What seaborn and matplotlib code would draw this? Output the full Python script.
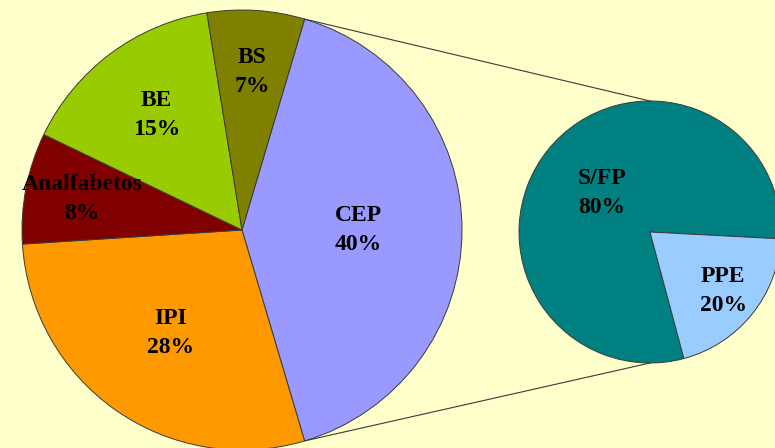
import numpy as np
import matplotlib
matplotlib.use("Agg")
import matplotlib.pyplot as plt
import seaborn as sns

# main pie
main_labels = ["CEP", "IPI", "Analfabetos", "BE", "BS"]
main_values = [40, 28, 8, 15, 7]
main_colors = ["#9999FF", "#FF9900", "#800000", "#99CC00", "#808000"]

# secondary pie (breakdown of CEP)
sub_labels = ["S/FP", "PPE"]
sub_values = [80, 20]
sub_colors = ["#008080", "#99CCFF"]

sns.set_theme(style="white")
plt.rcParams["font.family"] = ["Liberation Serif", "DejaVu Serif"]

bg = "#FFFFCC"
edge = "#3a3a3a"
fs = 17

fig = plt.figure(figsize=(7.75, 4.48), dpi=100, facecolor=bg)
ax = fig.add_axes([0, 0, 1, 1])
ax.set_facecolor(bg)

main_c, main_r = (242, 218), 220
sub_c, sub_r = (650, 216), 131

start = 360 * main_values[0] / sum(main_values) / 2
wedges, _ = ax.pie(main_values, colors=main_colors, center=main_c, radius=main_r,
                   startangle=start, counterclock=False, frame=True,
                   wedgeprops=dict(edgecolor=edge, linewidth=0.7))

label_r = [0.53, 0.57, 0.74, 0.65, 0.72]
for w, lab, v, rr in zip(wedges, main_labels, main_values, label_r):
    ang = np.deg2rad((w.theta1 + w.theta2) / 2)
    x = main_c[0] + rr * main_r * np.cos(ang)
    y = main_c[1] + rr * main_r * np.sin(ang)
    ax.text(x, y, f"{lab}\n{v}%", ha="center", va="center", fontsize=fs,
            fontweight="bold", color="black", linespacing=1.5)

sub_wedges, _ = ax.pie(sub_values, colors=sub_colors, center=sub_c, radius=sub_r,
                       startangle=285, counterclock=False, frame=True,
                       wedgeprops=dict(edgecolor=edge, linewidth=0.7))

sub_label_r = [0.47, 0.72]
for w, lab, v, rr in zip(sub_wedges, sub_labels, sub_values, sub_label_r):
    ang = np.deg2rad((w.theta1 + w.theta2) / 2)
    x = sub_c[0] + rr * sub_r * np.cos(ang)
    y = sub_c[1] + rr * sub_r * np.sin(ang)
    ax.text(x, y, f"{lab}\n{v}%", ha="center", va="center", fontsize=fs,
            fontweight="bold", color="black", linespacing=1.5)

# connector lines from the CEP slice to the secondary pie
cep = wedges[0]
for a, sgn in [(cep.theta2, 1), (cep.theta1, -1)]:
    a = np.deg2rad(a)
    x0 = main_c[0] + main_r * np.cos(a)
    y0 = main_c[1] + main_r * np.sin(a)
    ax.plot([x0, sub_c[0]], [y0, sub_c[1] + sgn * sub_r], color=edge, lw=0.8)

ax.set_xlim(0, 775)
ax.set_ylim(0, 448)
ax.set_aspect("equal")
ax.axis("off")
fig.savefig("out.png", dpi=100, facecolor=bg)
